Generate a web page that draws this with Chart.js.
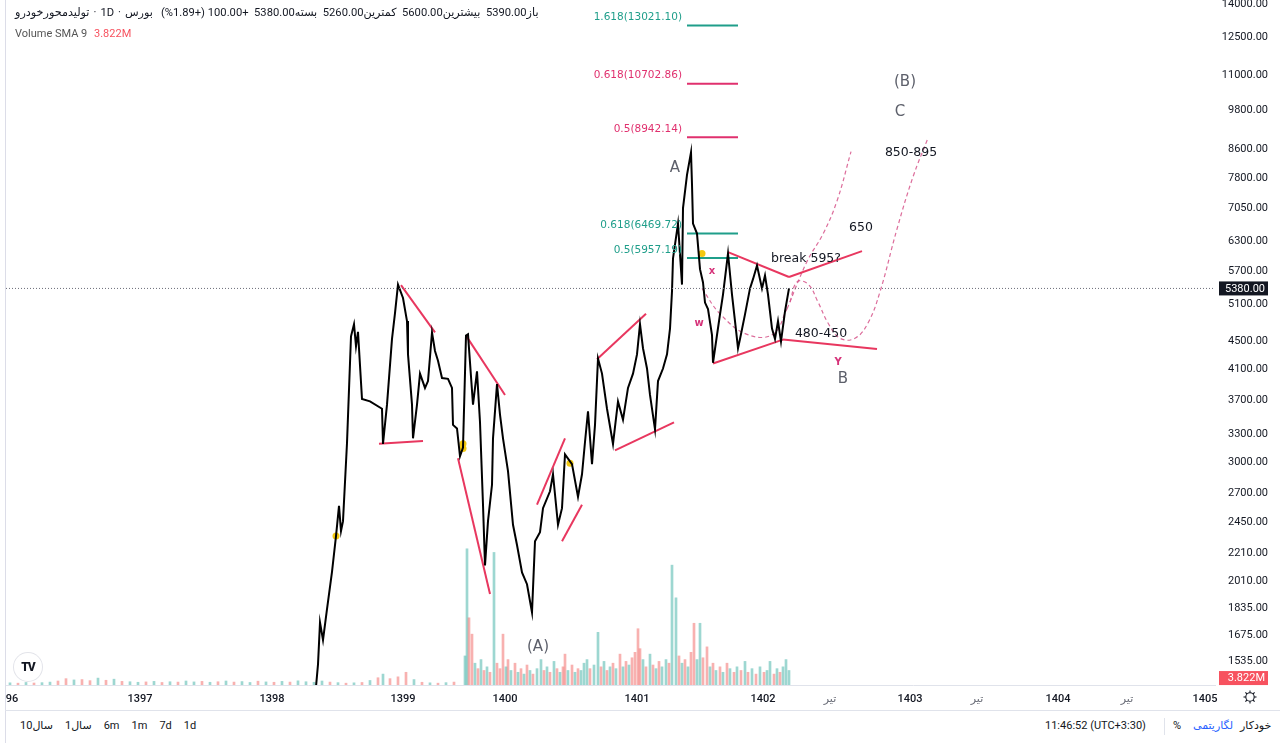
<!DOCTYPE html>
<html>
<head>
<meta charset="utf-8">
<script src="https://cdn.jsdelivr.net/npm/chart.js@4.4.0/dist/chart.umd.min.js"></script>
<style>
body{margin:0;background:#fff;width:1280px;height:743px;overflow:hidden;position:relative;
  font-family:Roboto,"DejaVu Sans",sans-serif;color:#131722}
#wrap{position:absolute;left:0;top:0;width:1280px;height:710px}
.legend{position:absolute;left:15px;top:6px;font-size:11.2px;white-space:nowrap;line-height:14px;display:flex;direction:ltr}
.legend > span{unicode-bidi:isolate;margin-right:4px}
.legend2{position:absolute;left:15px;top:27px;font-size:11px;color:#555;white-space:nowrap}
.legend2 .v{color:#f7525f;margin-left:4px}
.edge{position:absolute;left:5px;top:0;width:1px;height:743px;background:#dcdde8}
.bar{position:absolute;left:5px;top:710px;width:1275px;height:1px;background:#e0e3eb}
.ranges{position:absolute;left:20px;top:719px;font-size:11px;white-space:nowrap;display:flex;direction:ltr}
.ranges span{unicode-bidi:isolate;direction:ltr;margin-right:12px}
.bot{position:absolute;top:719px;font-size:11px;white-space:nowrap}
.sep{position:absolute;left:1164px;top:718px;width:1px;height:17px;background:#e0e3eb}
.logo{position:absolute;left:14px;top:653px;width:28px;height:28px;border-radius:50%;background:#fff;
  box-shadow:0 0 0 1px #e3e4ea;font:900 12px Roboto,sans-serif;text-align:center;line-height:28px;color:#131722;letter-spacing:-1px}
</style>
</head>
<body>
<div id="wrap"><canvas id="chart" width="1280" height="710"></canvas></div>
<div class="edge"></div>
<div class="legend"><span>تولیدمحورخودرو</span><span>·</span><span>1D</span><span>·</span><span>بورس</span><span dir="rtl" style="margin-left:4px">باز5390.00&nbsp;&nbsp;بیشترین5600.00&nbsp;&nbsp;کمترین5260.00&nbsp;&nbsp;بسته5380.00&nbsp;&nbsp;+100.00 (+1.89%)</span></div>
<div class="legend2">Volume SMA 9 <span class="v">3.822M</span></div>
<div class="logo">TV</div>
<div class="bar"></div>
<div class="ranges"><span>10سال</span><span>1سال</span><span>6m</span><span>1m</span><span>7d</span><span>1d</span></div>
<div class="bot" style="left:1045px">11:46:52 (UTC+3:30)</div>
<div class="sep"></div>
<div class="bot" style="left:1173px">%</div>
<div class="bot" style="left:1193px;color:#2962ff">لگاریتمی</div>
<div class="bot" style="left:1240px">خودکار</div>
<svg style="position:absolute;left:1242px;top:689px" width="16" height="16" viewBox="0 0 16 16">
  <circle cx="8" cy="8" r="4.2" fill="none" stroke="#131722" stroke-width="1.1"/>
  <g stroke="#131722" stroke-width="1.1">
    <line x1="8" y1="1.5" x2="8" y2="3.8"/><line x1="8" y1="12.2" x2="8" y2="14.5"/>
    <line x1="1.5" y1="8" x2="3.8" y2="8"/><line x1="12.2" y1="8" x2="14.5" y2="8"/>
    <line x1="3.4" y1="3.4" x2="5" y2="5"/><line x1="11" y1="11" x2="12.6" y2="12.6"/>
    <line x1="3.4" y1="12.6" x2="5" y2="11"/><line x1="11" y1="5" x2="12.6" y2="3.4"/>
  </g>
</svg>
<script>
// time axis is bar-index based (like the original), ticks at these bar positions
const timeTicks = [12, 140, 272, 403, 505, 637, 763, 830, 910, 977, 1058, 1127, 1205]
const timeLabels = ['96', '1397', '1398', '1399', '1400', '1401', '1402', 'تیر', '1403', 'تیر', '1404', 'تیر', '1405']

const priceTicks = [1535, 1675, 1835, 2010, 2210, 2450, 2700, 3000, 3300, 3700, 4100, 4500, 5100, 5700, 6300, 7050, 7800, 8600, 9800, 11000, 12500, 14000]
const lastPrice = 5380
const volumeSma = 3.822

// daily close path
const priceIdx = [316, 318, 320, 323, 327, 332, 336, 339, 341, 343, 347, 351, 354, 356, 358, 362, 370, 382, 383, 387,
    392, 395, 398, 403, 407, 408, 412, 413, 417, 420, 425, 428, 432, 435, 438, 442, 448, 452, 453, 457,
    460, 463, 466, 468, 473, 477, 480, 483, 485, 488, 492, 493, 497, 500, 503, 508, 513, 517, 522, 527,
    532, 535, 540, 543, 550, 553, 558, 562, 565, 572, 578, 582, 585, 588, 592, 595, 598, 602, 607, 613,
    618, 623, 628, 633, 637, 640, 643, 647, 650, 655, 658, 663, 667, 670, 672, 673, 678, 682, 683, 687,
    691, 692, 693, 697, 700, 703, 705, 708, 712, 713, 717, 720, 723, 728, 732, 735, 738, 740, 745, 750,
    753, 757, 762, 765, 768, 772, 775, 778, 781, 785, 789]
const priceVals = [1410, 1520, 1750, 1650, 1830, 2075, 2340, 2590, 2380, 2460, 3200, 4580, 4770, 4430, 4650, 3710, 3680, 3590, 3190, 3640,
    4540, 4950, 5450, 5210, 4820, 4310, 3640, 3250, 3640, 4040, 3850, 3940, 4640, 4360, 4220, 3980, 3970, 3850, 3400, 3360,
    3060, 3150, 4590, 4610, 3640, 4070, 3430, 2600, 2120, 2460, 2780, 3250, 3900, 3520, 3250, 2910, 2430, 2270, 2070, 1990,
    1810, 2300, 2370, 2570, 2720, 2880, 2430, 2570, 3080, 2980, 2670, 2880, 3210, 3560, 2980, 3400, 4250, 4040, 3590, 3190,
    3680, 3460, 3850, 4040, 4310, 4770, 4400, 4110, 3760, 3350, 3940, 4110, 4310, 4700, 5330, 5950, 6690, 5450, 7050, 7880,
    8500, 7630, 6690, 6470, 5740, 5490, 5130, 5020, 4600, 4190, 4600, 4930, 5270, 6050, 5270, 4820, 4400, 4540, 4930, 5380,
    5550, 5810, 5380, 5620, 5270, 4700, 4540, 4820, 4500, 4980, 5380]

// volume in millions, 1 = up day (teal), 0 = down day (red)
const volumeIdx = [10, 18, 26, 34, 42, 50, 58, 66, 74, 82, 90, 98, 106, 114, 122, 130, 138, 146, 154, 162,
    170, 178, 186, 194, 202, 210, 218, 226, 234, 242, 250, 258, 266, 274, 282, 290, 298, 306, 314, 322,
    330, 338, 346, 354, 362, 370, 378, 383, 390, 398, 406, 414, 422, 430, 438, 446, 454,
    465, 467, 469, 472, 475, 478, 481, 484, 487, 490, 494, 497, 500, 503, 506, 508, 511, 515, 518, 521,
    524, 527, 530, 533, 537, 541, 544, 547, 550, 554, 557, 560, 563, 565, 568, 572, 575, 578, 581, 584,
    587, 590, 594, 598, 601, 604, 607, 610, 613, 616, 620, 623, 626, 629, 632, 635, 638, 640, 643, 646,
    650, 653, 656, 659, 662, 666, 669, 672, 676, 679, 682, 685, 688, 691, 694, 697, 700, 703, 707, 710,
    713, 716, 720, 723, 727, 730, 734, 737, 741, 745, 748, 752, 756, 760, 764, 767, 770, 774, 777, 780,
    783, 786, 789]
const volumeVals = [1.2, 1.0, 1.4, 1.1, 1.3, 1.6, 2.2, 3.5, 2.8, 3.0, 2.4, 3.8, 2.6, 3.2, 2.0, 1.8, 1.5, 1.7, 2.0, 1.4,
    1.8, 1.6, 2.2, 1.7, 2.0, 1.5, 1.8, 2.2, 1.6, 1.9, 1.4, 2.1, 1.7, 1.5, 2.0, 1.6, 2.3, 1.8, 1.5, 2.2,
    1.6, 1.3, 1.0, 1.2, 1.4, 2.5, 4.0, 6.0, 3.5, 4.5, 7.0, 3.0, 1.5, 1.2, 1.0, 1.3, 1.6,
    16, 75, 37, 28, 12, 9, 14, 8, 10, 7, 73, 12, 9, 28, 10, 14, 8, 12, 7, 9,
    6, 11, 8, 6, 9, 14, 8, 10, 7, 13, 9, 7, 10, 17, 8, 11, 7, 9, 8, 12,
    14, 9, 11, 29, 10, 13, 8, 10, 12, 9, 17, 10, 13, 11, 15, 18, 31, 20, 14, 10,
    17, 11, 9, 13, 10, 14, 12, 66, 48, 16, 12, 14, 10, 18, 34, 14, 34, 15, 21, 10,
    12, 8, 10, 7, 12, 9, 7, 10, 8, 13, 7, 9, 6, 10, 7, 8, 13, 6, 9, 7,
    10, 14, 8]
const volumeUp = [1, 0, 1, 0, 1, 1, 0, 0, 1, 0, 0, 1, 0, 1, 0, 1, 1, 0, 1, 0,
    1, 0, 1, 1, 0, 1, 0, 1, 0, 1, 1, 0, 1, 0, 1, 0, 1, 1, 1, 1,
    0, 1, 0, 1, 0, 1, 0, 1, 0, 0, 0, 1, 0, 1, 0, 1, 0,
    1, 1, 0, 0, 1, 0, 1, 0, 1, 0, 1, 0, 0, 0, 1, 0, 1, 0, 1, 0,
    1, 0, 1, 0, 1, 1, 0, 1, 0, 1, 0, 1, 0, 0, 1, 0, 1, 0, 1, 1,
    1, 0, 1, 1, 0, 1, 0, 1, 0, 1, 0, 1, 0, 1, 0, 0, 0, 0, 1, 0,
    1, 0, 1, 0, 1, 1, 0, 1, 1, 0, 1, 0, 1, 0, 0, 1, 1, 0, 0, 1,
    0, 1, 0, 1, 0, 1, 0, 1, 0, 1, 0, 1, 0, 1, 0, 1, 1, 0, 1, 0,
    1, 1, 1]

// drawn trend lines: [bar1, price1, bar2, price2]
const trendLines = [
    [401, 5440, 435, 4640],
    [379, 3190, 423, 3220],
    [466, 4590, 505, 3760],
    [458, 3040, 490, 1925],
    [537, 2600, 565, 3250],
    [562, 2300, 582, 2600],
    [597, 4240, 646, 4940],
    [615, 3120, 674, 3430],
    [728, 6080, 789, 5590],
    [789, 5590, 862, 6100],
    [713, 4180, 783, 4530],
    [783, 4530, 877, 4390],
]

// fibonacci levels
const fibNames = ['1.618(13021.10)', '0.618(10702.86)', '0.5(8942.14)', '0.618(6469.72)', '0.5(5957.19)']
const fibPrices = [13021.10, 10702.86, 8942.14, 6469.72, 5957.19]
const fibTeal = [1, 0, 0, 1, 1]
const fibFrom = 687
const fibTo = 738

// dashed projection paths
const pathW = [[702, 5380], [720, 4940], [747, 4610], [773, 4610], [787, 5020]]
const pathUp = [[787, 5020], [807, 5890], [823, 6460], [837, 7220], [851, 8520]]
const pathDip = [[790, 5140], [797, 5500], [808, 5460], [818, 5140], [828, 4790], [840, 4550], [855, 4550],
    [868, 4790], [880, 5320], [897, 6570], [913, 7830], [928, 8920]]

// event markers
const markerIdx = [336, 463, 463, 570, 702]
const markerVals = [2340, 3190, 3140, 2990, 6050]

// chart notes: text, bar, price, kind
const noteText = ['A', '(B)', 'C', 'B', '(A)', '850-895', '650', 'break 595?', '480-450', 'x', 'w', 'Y']
const noteIdx = [675, 905, 900, 843, 538, 911, 861, 806, 821, 712, 699, 838]
const notePrice = [8050, 10770, 9730, 3970, 1610, 8490, 6600, 5950, 4620, 5700, 4780, 4200]
const noteKind = ['wave', 'wave', 'wave', 'wave', 'wave', 'target', 'target', 'target', 'target', 'sub', 'sub', 'sub']

const RED = '#e8375f'
const TEAL = '#1f9e8a'
const PINK = '#e0306e'
const noteStyle = {
    wave: { font: '15px "DejaVu Sans", sans-serif', color: '#5d606b' },
    target: { font: '12.5px "DejaVu Sans", sans-serif', color: '#131722' },
    sub: { font: 'bold 10px "DejaVu Sans", sans-serif', color: '#d6337a' },
}

const X_MIN = 6
const X_MAX = 1215

function seg(points) {
    return points.map(p => ({ x: p[0], y: p[1] }))
}

const datasets = []

datasets.push({
    type: 'bar',
    yAxisID: 'vol',
    data: volumeIdx.map((v, i) => ({ x: v, y: volumeVals[i] })),
    backgroundColor: volumeUp.map(u => u ? 'rgba(38,166,154,0.45)' : 'rgba(239,83,80,0.45)'),
    barThickness: 2,
    order: 10,
})

datasets.push({
    data: [{ x: X_MIN, y: lastPrice }, { x: X_MAX, y: lastPrice }],
    borderColor: '#6a6d78',
    borderWidth: 1,
    borderDash: [1, 2],
    pointRadius: 0,
})

datasets.push({
    data: priceIdx.map((v, i) => ({ x: v, y: priceVals[i] })),
    borderColor: '#000',
    borderWidth: 2,
    pointRadius: 0,
    tension: 0,
})

trendLines.forEach(t => {
    datasets.push({
        data: [{ x: t[0], y: t[1] }, { x: t[2], y: t[3] }],
        borderColor: RED,
        borderWidth: 2,
        pointRadius: 0,
    })
})

fibPrices.forEach((p, i) => {
    datasets.push({
        data: [{ x: fibFrom, y: p }, { x: fibTo, y: p }],
        borderColor: fibTeal[i] ? TEAL : PINK,
        borderWidth: 2,
        pointRadius: 0,
    })
})

;[pathW, pathUp, pathDip].forEach(path => {
    datasets.push({
        data: seg(path),
        borderColor: 'rgba(214,83,138,0.85)',
        borderWidth: 1.2,
        borderDash: [4, 3],
        pointRadius: 0,
        tension: 0.4,
    })
})

datasets.push({
    data: markerIdx.map((v, i) => ({ x: v, y: markerVals[i] })),
    showLine: false,
    pointRadius: 3.5,
    pointBackgroundColor: '#f2c811',
    pointBorderWidth: 0,
})

const notesPlugin = {
    id: 'notes',
    afterDatasetsDraw(chart) {
        const { ctx } = chart
        const x = chart.scales.x
        const y = chart.scales.y
        ctx.save()
        ctx.textAlign = 'center'
        ctx.textBaseline = 'middle'
        noteText.forEach((t, i) => {
            const st = noteStyle[noteKind[i]]
            ctx.font = st.font
            ctx.fillStyle = st.color
            ctx.fillText(t, x.getPixelForValue(noteIdx[i]), y.getPixelForValue(notePrice[i]))
        })
        ctx.textAlign = 'right'
        ctx.textBaseline = 'bottom'
        ctx.font = '10.5px "DejaVu Sans", sans-serif'
        fibNames.forEach((t, i) => {
            ctx.fillStyle = fibTeal[i] ? TEAL : PINK
            ctx.fillText(t, x.getPixelForValue(fibFrom - 5), y.getPixelForValue(fibPrices[i]) - 3)
        })
        ctx.restore()
    },
    afterDraw(chart) {
        const { ctx } = chart
        const y = chart.scales.y
        const vol = chart.scales.vol
        ctx.save()
        ctx.font = '11px Roboto, sans-serif'
        ctx.textAlign = 'right'
        ctx.textBaseline = 'middle'
        let py = y.getPixelForValue(lastPrice)
        ctx.fillStyle = '#131722'
        ctx.fillRect(1219, py - 7, 49, 14)
        ctx.fillStyle = '#fff'
        ctx.fillText(lastPrice.toFixed(2), 1265, py + 0.5)
        let vy = vol.getPixelForValue(volumeSma)
        ctx.fillStyle = '#f7525f'
        ctx.fillRect(1219, vy - 7, 49, 14)
        ctx.fillStyle = '#fff'
        ctx.fillText(volumeSma.toFixed(3) + 'M', 1265, vy + 0.5)
        ctx.restore()
    },
}

new Chart(document.getElementById('chart'), {
    type: 'line',
    data: { datasets: datasets },
    plugins: [notesPlugin],
    options: {
        responsive: false,
        animation: false,
        devicePixelRatio: 1,
        layout: { padding: { left: X_MIN, right: 12, top: 0, bottom: 0 } },
        plugins: { legend: { display: false }, tooltip: { enabled: false } },
        scales: {
            x: {
                type: 'linear',
                min: X_MIN,
                max: X_MAX,
                offset: false,
                grid: { display: false },
                border: { display: true, color: '#e0e3eb' },
                afterBuildTicks: s => { s.ticks = timeTicks.map(v => ({ value: v })) },
                afterFit: s => { s.height = 25; s.paddingLeft = 0; s.paddingRight = 0 },
                ticks: {
                    autoSkip: false,
                    maxRotation: 0,
                    padding: 0,
                    callback: (v, i) => timeLabels[i],
                    font: c => ({ size: 11, family: 'Roboto, "DejaVu Sans", sans-serif', weight: timeLabels[c.index] === 'تیر' ? 'normal' : '500' }),
                    color: c => timeLabels[c.index] === 'تیر' ? '#6a6d78' : '#131722',
                },
            },
            y: {
                type: 'logarithmic',
                position: 'right',
                min: 1418,
                max: 14000,
                grid: { display: false },
                border: { display: false },
                afterBuildTicks: s => { s.ticks = priceTicks.map(v => ({ value: v })) },
                afterFit: s => { s.width = 53; s.paddingTop = 0; s.paddingBottom = 0 },
                ticks: {
                    autoSkip: false,
                    crossAlign: 'far',
                    callback: v => Number(v).toFixed(2),
                    font: { size: 11, family: 'Roboto, sans-serif' },
                    color: '#131722',
                },
            },
            vol: {
                type: 'linear',
                display: false,
                min: 0,
                max: 375,
            },
        },
    },
})
</script>
</body>
</html>
